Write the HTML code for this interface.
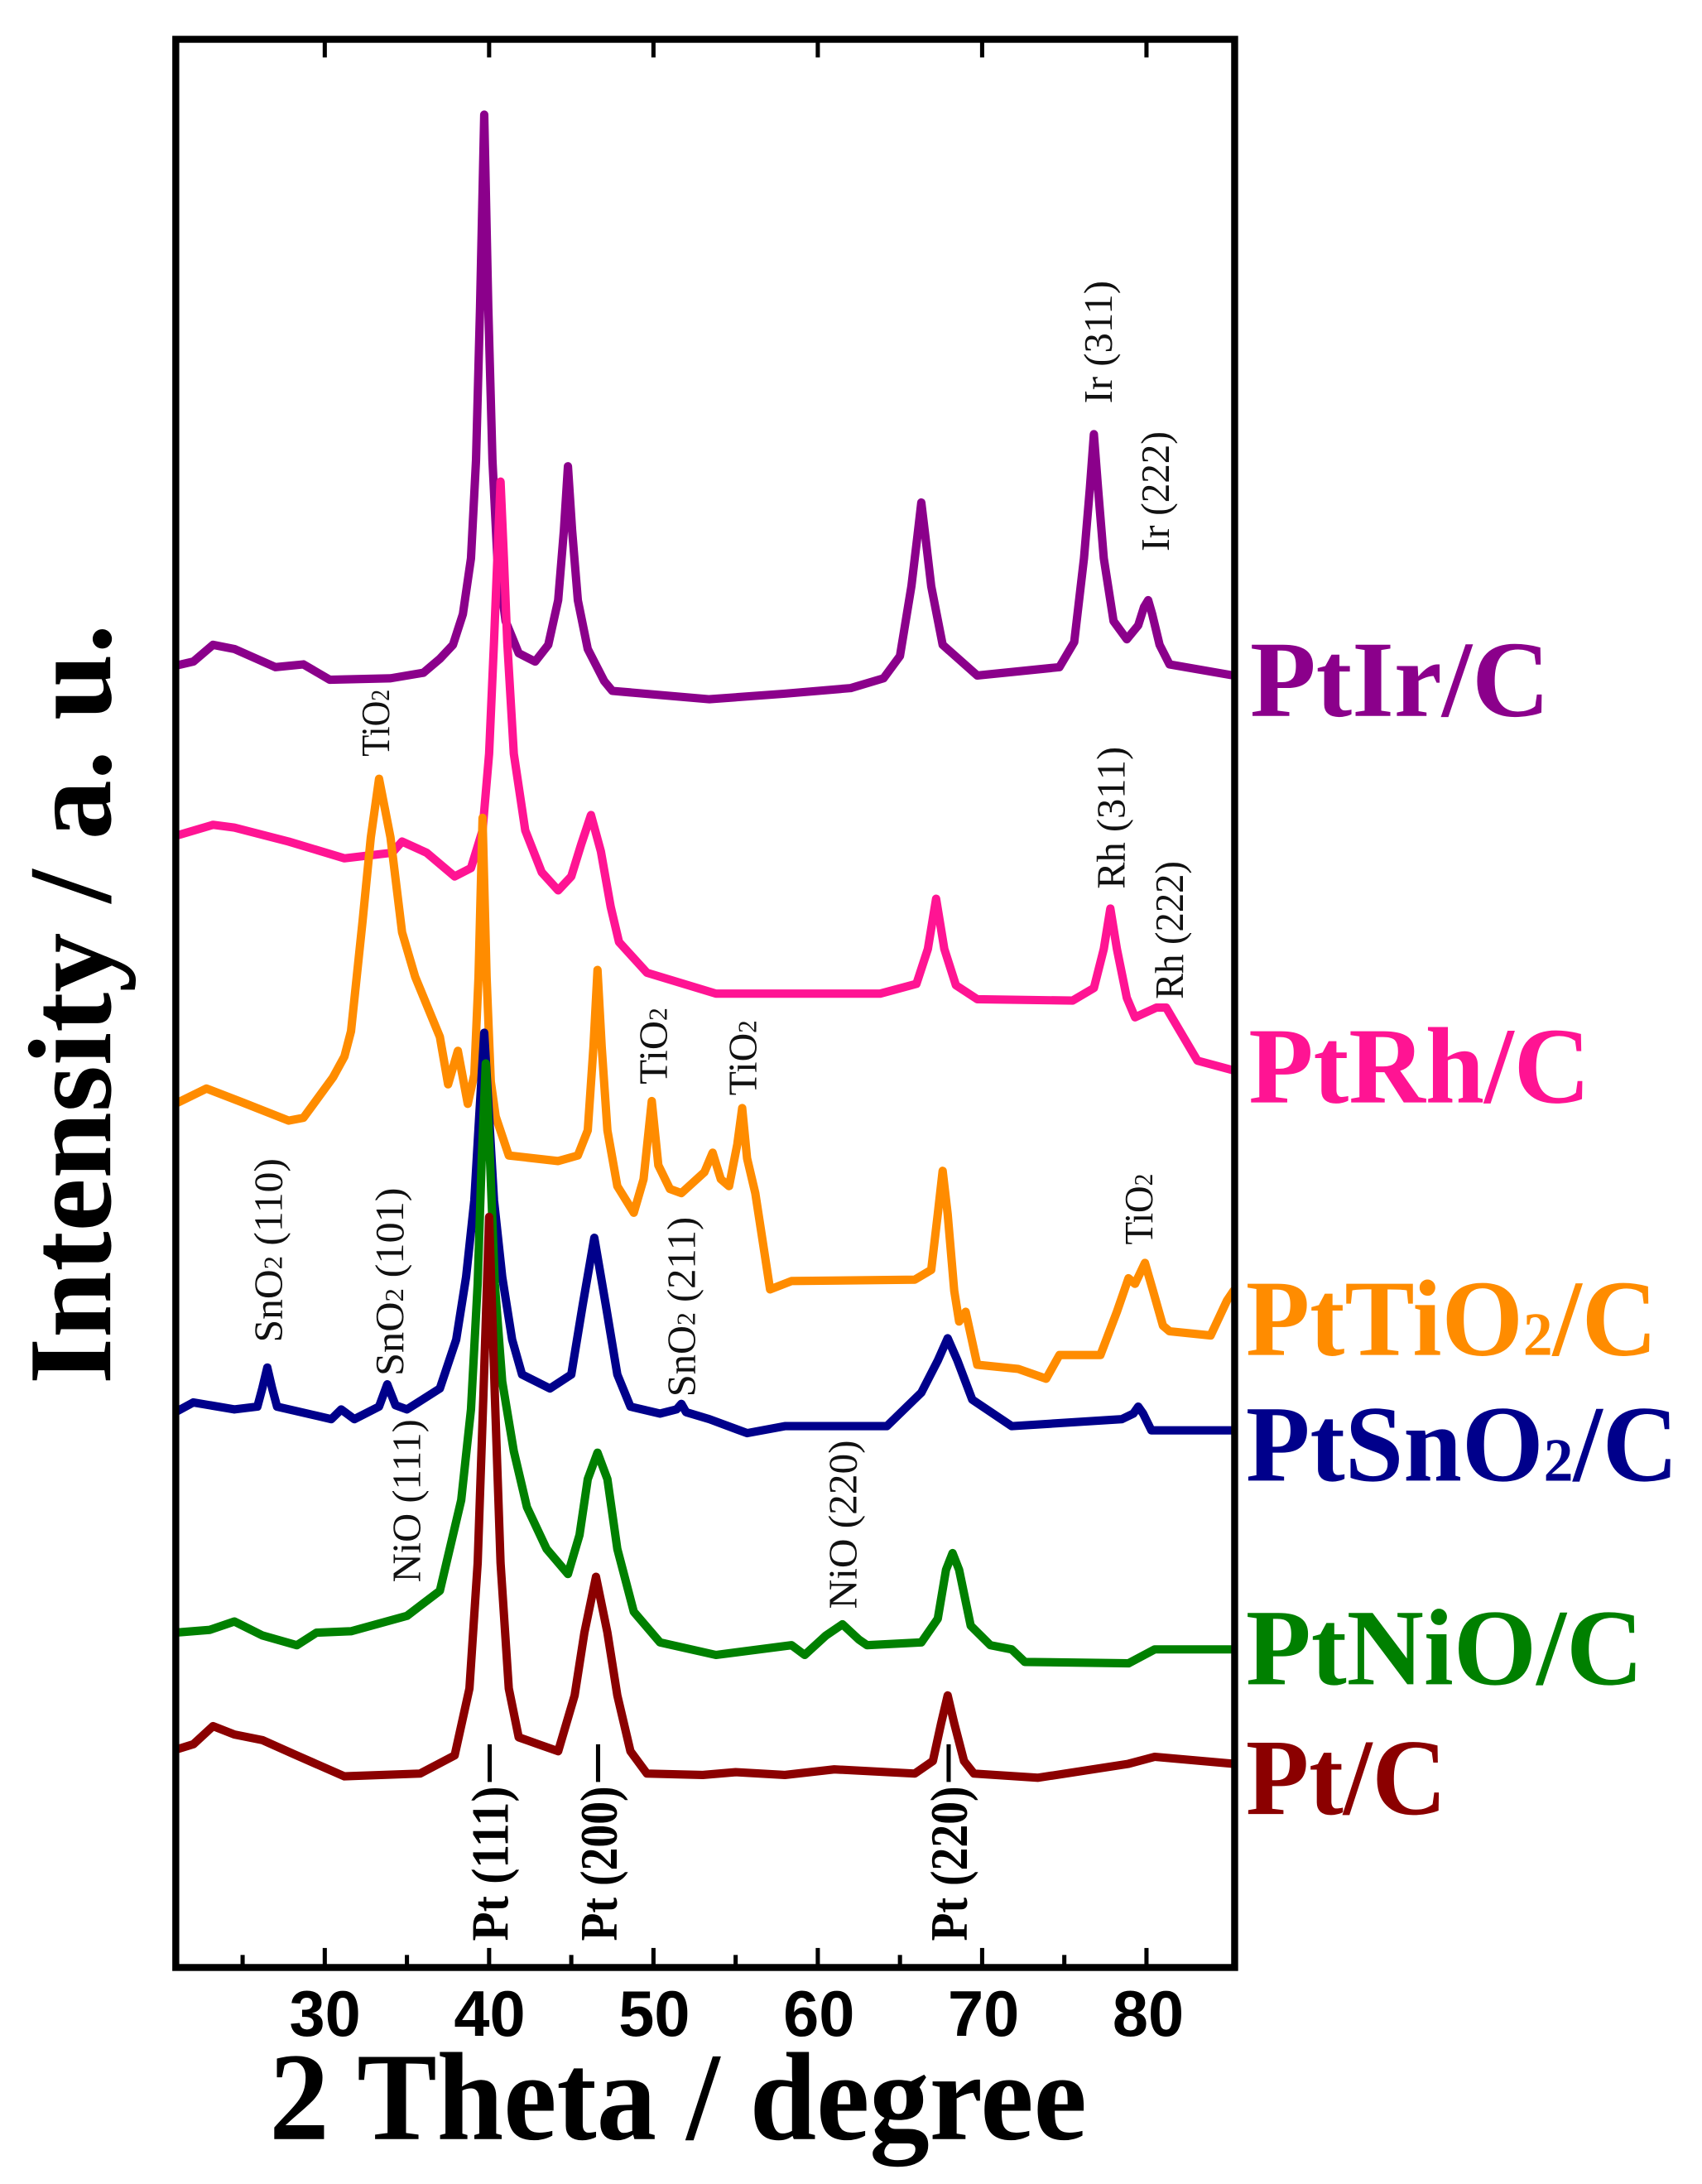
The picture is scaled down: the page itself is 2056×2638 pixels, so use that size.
<!DOCTYPE html>
<html><head><meta charset="utf-8"><style>
html,body{margin:0;padding:0;background:#fff}
svg{display:block}
</style></head><body>
<svg xmlns="http://www.w3.org/2000/svg" width="2056" height="2638" viewBox="0 0 1220 1565">
<rect width="1220" height="1565" fill="#fff"/>
<defs><clipPath id="c"><rect x="126" y="28" width="759" height="1382"/></clipPath></defs>
<g clip-path="url(#c)" fill="none" stroke-width="6" stroke-linejoin="round" stroke-linecap="round">
<polyline stroke="#8B008B" points="125.6,477 138.6,474 152.7,462 168,465 197.5,478 217.5,476 236.3,487 279.9,486 303.5,482 315.3,472 324.7,462 331.8,440 337.6,400 341.2,330 344.1,220 347.1,82 350,220 353,330 356.5,400 362.4,445 371.8,468 383.6,474 393,462 400.1,430 404.2,380 407.1,334 410.1,380 414.2,430 421.3,465 433.1,488 438.9,495 508.5,501 562.6,497 609.8,493 633.3,486 645.1,470 653.3,420 657.5,385 660.4,360 663.4,385 667.5,420 675.7,462 700.5,484 759.4,478 770,460 777,400 781.2,350 784.1,311 787.1,350 791.2,400 798.2,445 807.7,458 815.9,448 820,435 823,430 825.9,440 831.2,462 838.3,476 884.2,484"/>
<polyline stroke="#FF1493" points="125.6,599 152.7,591 168,593 206.9,603 246.9,615 281.1,611 288.2,603 305.8,611 325.9,628 337.6,622 345.9,595 350.6,540 354.1,460 356.5,400 358.8,345 361.2,400 363.6,460 368.3,540 376.5,595 388.3,625 400.1,638 409.5,628 416.6,605 423.6,584 430.7,610 437.8,650 443.7,675 463.7,697 513.2,712 630.9,712 656.9,705 665.1,680 671,644 676.9,680 685.2,706 700.5,716 768.8,717 784.1,708 791.2,680 795.9,651 800.6,680 807.7,715 813.6,729 828.9,722 835.9,722 840.6,730 858.3,760 884.2,767"/>
<polyline stroke="#FF8C00" points="125.6,791 148,780 173.9,790 206.9,803 217.5,801 238.7,772 246.9,757 251.6,739 259.9,660 265.8,600 271.7,558 279.9,600 288.2,668 297.6,700 315.3,743 321.2,777 328.2,753 335.3,791 340,770 343,700 345.9,586 348.8,700 351.8,775 355.3,800 364.7,828 400.1,832 414.2,828 421.3,810 425.4,750 428.3,695 431.3,750 435.4,810 442.5,850 454.3,869 461.3,845 467.2,789 471.9,835 480.2,852 488.4,855 504.9,840 510.8,826 516.7,845 522.6,850 528.5,820 532,794 535.5,830 541.4,855 552,924 567.4,918 655.7,917 667.5,910 672.2,870 675.7,839 679.3,870 684,925 687.5,947 692.2,940 700.5,978 729.9,981 749.9,988 759.4,971 788.8,971 800.6,940 808.9,916 813.6,920 820.7,905 826.5,925 833.6,950 838.3,954 867.8,957 879.5,932 884.2,925"/>
<polyline stroke="#00008B" points="125.6,1012 138.6,1005 168,1010 184.5,1008 188,995 191.6,980 195.1,995 198.6,1008 237.5,1017 244.6,1010 254,1017 271.7,1008 277.6,992 283.5,1007 291.7,1010 315.3,995 327,960 334.1,915 340,860 343.5,800 347.1,740 350.6,800 354.1,860 360,915 367.1,960 374.2,985 394.2,995 409.5,985 417.7,935 426,887 434.2,935 442.5,985 451.9,1008 473.1,1013 484.9,1010 488.4,1006 491.8,1012 508.5,1017 535.5,1027 562.6,1022 635.7,1022 660.4,998 672.2,975 679.3,959 686.3,975 696.9,1003 725.2,1022 804.1,1017 812.4,1013 815.9,1008 819.4,1013 825.3,1025 884.2,1025"/>
<polyline stroke="#008000" points="125.6,1170 150.3,1168 168,1162 188,1172 212.8,1179 226.9,1170 251.6,1169 291.7,1158 315.3,1140 330.6,1075 337.6,1010 342.4,920 345.3,830 348.2,762 351.2,830 354.7,920 360,990 368.3,1040 377.7,1080 391.8,1110 407.1,1128 415.4,1100 421.3,1060 428.3,1041 435.4,1060 442.5,1110 454.3,1155 473.1,1177 513.2,1186 567.4,1179 576.8,1186 592.1,1172 603.9,1164 615.7,1175 621.5,1179 660.4,1177 672.2,1160 678.1,1125 682.8,1113 687.5,1125 695.8,1165 709.9,1179 725.2,1182 734.6,1191 808.9,1192 827.7,1182 884.2,1182"/>
<polyline stroke="#8B0000" points="125.6,1254 138.6,1250 152.7,1237 168,1243 188,1247 210.4,1257 246.9,1273 301.1,1271 325.9,1258 336.5,1210 342.4,1120 346.5,1000 350.6,872 354.7,1000 358.8,1120 364.7,1210 371.8,1245 385.9,1250 400.1,1255 411.9,1215 418.9,1170 427.2,1130 435.4,1170 442.5,1215 451.9,1255 463.7,1271 503.7,1272 527.3,1270 562.6,1272 598,1268 655.7,1271 668.7,1262 674.6,1235 679.3,1215 684,1235 691,1262 698.1,1271 744.1,1274 808.9,1264 827.7,1259 884.2,1264"/>
</g>
<rect x="126" y="28" width="759" height="1382" fill="none" stroke="#000" stroke-width="5"/>
<g stroke="#000" stroke-width="3">
<line x1="173.9" y1="1410" x2="173.9" y2="1401"/><line x1="232.8" y1="1410" x2="232.8" y2="1396"/>
<line x1="291.7" y1="1410" x2="291.7" y2="1401"/><line x1="350.6" y1="1410" x2="350.6" y2="1396"/>
<line x1="409.5" y1="1410" x2="409.5" y2="1401"/><line x1="468.4" y1="1410" x2="468.4" y2="1396"/>
<line x1="527.3" y1="1410" x2="527.3" y2="1401"/><line x1="586.2" y1="1410" x2="586.2" y2="1396"/>
<line x1="645.1" y1="1410" x2="645.1" y2="1401"/><line x1="704" y1="1410" x2="704" y2="1396"/>
<line x1="762.9" y1="1410" x2="762.9" y2="1401"/><line x1="821.8" y1="1410" x2="821.8" y2="1396"/>
<line x1="232.8" y1="28" x2="232.8" y2="41"/><line x1="350.6" y1="28" x2="350.6" y2="41"/>
<line x1="468.4" y1="28" x2="468.4" y2="41"/><line x1="586.2" y1="28" x2="586.2" y2="41"/>
<line x1="704" y1="28" x2="704" y2="41"/><line x1="821.8" y1="28" x2="821.8" y2="41"/>
</g>
<g font-family="Liberation Sans, Arial, sans-serif" font-weight="bold" font-size="46" text-anchor="middle" fill="#000">
<text x="233" y="1459">30</text><text x="351" y="1459">40</text><text x="469" y="1459">50</text>
<text x="587" y="1459">60</text><text x="705" y="1459">70</text><text x="823" y="1459">80</text>
</g>
<text x="193" y="1533" font-family="Liberation Serif, serif" font-weight="bold" font-size="90" textLength="586" lengthAdjust="spacingAndGlyphs">2 Theta / degree</text>
<text transform="translate(79,992) rotate(-90)" font-family="Liberation Serif, serif" font-weight="bold" font-size="85" textLength="545" lengthAdjust="spacingAndGlyphs">Intensity / a. u.</text>
<g font-family="Liberation Serif, serif" font-weight="bold" font-size="78">
<text x="896" y="513" fill="#8B008B" textLength="215" lengthAdjust="spacingAndGlyphs">PtIr/C</text>
<text x="895" y="790" fill="#FF1493" textLength="245" lengthAdjust="spacingAndGlyphs">PtRh/C</text>
<text x="893" y="971" fill="#FF8C00" textLength="295" lengthAdjust="spacingAndGlyphs">PtTiO<tspan font-size="44">2</tspan>/C</text>
<text x="893" y="1061" fill="#00008B" textLength="310" lengthAdjust="spacingAndGlyphs">PtSnO<tspan font-size="44">2</tspan>/C</text>
<text x="893" y="1207" fill="#008000" textLength="285" lengthAdjust="spacingAndGlyphs">PtNiO/C</text>
<text x="893" y="1300" fill="#8B0000" textLength="144" lengthAdjust="spacingAndGlyphs">Pt/C</text>
</g>
<g font-family="Liberation Serif, serif" font-size="29" fill="#111">
<text transform="translate(279,542) rotate(-90)" textLength="48" lengthAdjust="spacingAndGlyphs">TiO<tspan font-size="19">2</tspan></text>
<text transform="translate(806,637) rotate(-90)" textLength="102" lengthAdjust="spacingAndGlyphs">Rh (311)</text>
<text transform="translate(848,716) rotate(-90)" textLength="99" lengthAdjust="spacingAndGlyphs">Rh (222)</text>
<text transform="translate(478,777) rotate(-90)" textLength="55" lengthAdjust="spacingAndGlyphs">TiO<tspan font-size="19">2</tspan></text>
<text transform="translate(542,785) rotate(-90)" textLength="54" lengthAdjust="spacingAndGlyphs">TiO<tspan font-size="19">2</tspan></text>
<text transform="translate(202,962) rotate(-90)" textLength="132" lengthAdjust="spacingAndGlyphs">SnO<tspan font-size="19">2</tspan> (110)</text>
<text transform="translate(289,986) rotate(-90)" textLength="135" lengthAdjust="spacingAndGlyphs">SnO<tspan font-size="19">2</tspan> (101)</text>
<text transform="translate(498,1001) rotate(-90)" textLength="129" lengthAdjust="spacingAndGlyphs">SnO<tspan font-size="19">2</tspan> (211)</text>
<text transform="translate(826,892) rotate(-90)" textLength="51" lengthAdjust="spacingAndGlyphs">TiO<tspan font-size="19">2</tspan></text>
<text transform="translate(301,1134) rotate(-90)" textLength="117" lengthAdjust="spacingAndGlyphs">NiO (111)</text>
<text transform="translate(614,1153) rotate(-90)" textLength="121" lengthAdjust="spacingAndGlyphs">NiO (220)</text>
<text transform="translate(797,289) rotate(-90)" textLength="88" lengthAdjust="spacingAndGlyphs">Ir (311)</text>
<text transform="translate(838,395) rotate(-90)" textLength="86" lengthAdjust="spacingAndGlyphs">Ir (222)</text>
</g>
<g font-family="Liberation Serif, serif" font-weight="bold" font-size="38" fill="#000">
<text transform="translate(364,1391) rotate(-90)" textLength="111" lengthAdjust="spacingAndGlyphs">Pt (111)</text>
<text transform="translate(442,1391) rotate(-90)" textLength="111" lengthAdjust="spacingAndGlyphs">Pt (200)</text>
<text transform="translate(693,1391) rotate(-90)" textLength="111" lengthAdjust="spacingAndGlyphs">Pt (220)</text>
</g>
<g stroke="#000" stroke-width="3">
<line x1="351" y1="1277" x2="351" y2="1250"/>
<line x1="428.7" y1="1277" x2="428.7" y2="1250"/>
<line x1="680" y1="1277" x2="680" y2="1250"/>
</g>
</svg>
</body></html>
